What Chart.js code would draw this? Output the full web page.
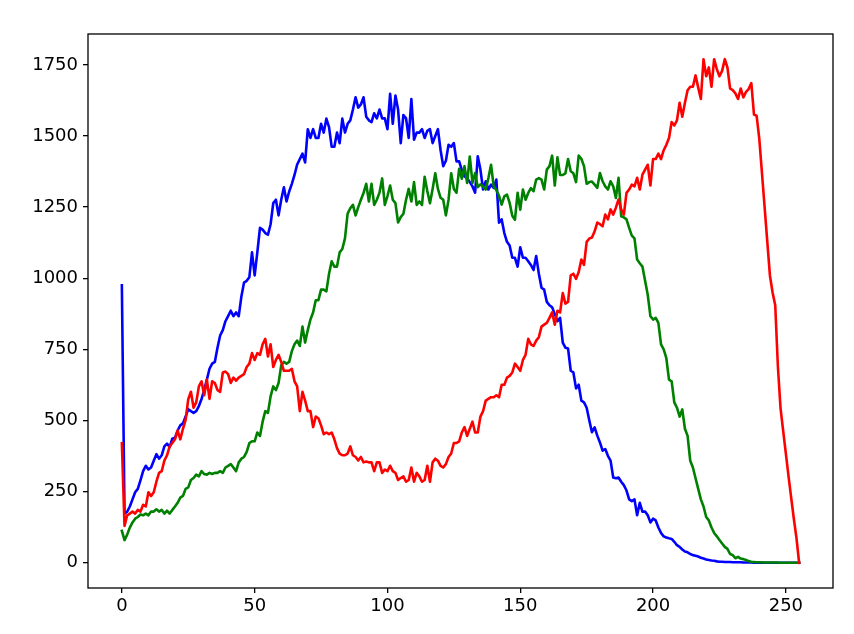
<!DOCTYPE html>
<html lang="en">
<head>
<meta charset="UTF-8">
<title>Colour histogram</title>
<script src="https://cdn.jsdelivr.net/npm/chart.js"></script>
<style>
  html, body { margin: 0; padding: 0; background: #ffffff; }
  #histChart { display: block; }
</style>
</head>
<body>
<canvas id="histChart" width="854" height="634"></canvas>
<script>
// pixel counts per intensity bin
const blueCounts = [
  975, 173, 180, 198, 223, 248, 260, 290, 322, 341, 328, 335, 359, 382, 366, 378,
  409, 419, 407, 436, 440, 465, 483, 490, 514, 540, 533, 527, 533, 551, 576, 607,
  644, 682, 700, 706, 756, 799, 818, 849, 867, 886, 867, 880, 867, 936, 985, 991,
  1004, 1091, 1010, 1091, 1177, 1171, 1159, 1153, 1190, 1264, 1276, 1221, 1276, 1320, 1270, 1305,
  1332, 1363, 1400, 1419, 1438, 1407, 1524, 1493, 1524, 1493, 1493, 1543, 1512, 1561, 1531, 1462,
  1462, 1512, 1475, 1561, 1512, 1543, 1555, 1593, 1636, 1600, 1611, 1636, 1568, 1555, 1549, 1580,
  1562, 1593, 1562, 1562, 1524, 1648, 1543, 1642, 1593, 1475, 1574, 1562, 1493, 1630, 1487, 1512,
  1512, 1524, 1493, 1518, 1524, 1475, 1500, 1524, 1450, 1394, 1413, 1469, 1462, 1475, 1411, 1411,
  1380, 1358, 1352, 1338, 1323, 1301, 1429, 1382, 1312, 1341, 1312, 1329, 1318, 1347, 1195, 1207,
  1159, 1128, 1115, 1072, 1072, 1041, 1109, 1072, 1072, 1060, 1047, 1029, 1078, 1016, 967, 960,
  917, 905, 898, 874, 849, 861, 774, 756, 753, 675, 669, 613, 626, 570, 564, 545,
  500, 459, 476, 447, 423, 394, 400, 376, 359, 300, 297, 300, 285, 273, 254, 223,
  217, 223, 167, 211, 180, 180, 167, 142, 155, 149, 124, 105, 93, 89, 86, 84,
  74, 62, 56, 47, 40, 37, 31, 27, 25, 22, 18, 15, 12, 10, 8, 7,
  5, 4, 4, 3, 3, 3, 2, 2, 2, 2, 1, 1, 1, 1, 0, 0,
  0, 0, 0, 0, 0, 0, 0, 0, 0, 0, 0, 0, 0, 0, 0, 0
];
const greenCounts = [
  112, 80, 99, 124, 142, 155, 161, 170, 167, 173, 167, 180, 180, 188, 180, 186,
  173, 183, 173, 186, 198, 211, 229, 235, 260, 265, 291, 298, 310, 304, 322, 312,
  310, 316, 312, 316, 316, 322, 316, 335, 341, 347, 335, 322, 353, 366, 372, 390,
  421, 427, 427, 458, 446, 496, 533, 527, 585, 620, 607, 632, 694, 706, 700, 706,
  744, 768, 781, 762, 830, 774, 818, 855, 880, 923, 923, 960, 960, 954, 1016, 1060,
  1041, 1041, 1091, 1103, 1140, 1227, 1246, 1258, 1221, 1250, 1276, 1300, 1332, 1270, 1332, 1258,
  1276, 1301, 1351, 1258, 1289, 1326, 1276, 1264, 1196, 1215, 1227, 1276, 1314, 1270, 1338, 1258,
  1270, 1258, 1357, 1307, 1264, 1314, 1369, 1314, 1283, 1276, 1221, 1276, 1369, 1314, 1301, 1385,
  1350, 1394, 1335, 1428, 1335, 1370, 1320, 1330, 1323, 1312, 1352, 1399, 1323, 1310, 1290, 1259,
  1288, 1294, 1265, 1220, 1206, 1300, 1241, 1312, 1276, 1300, 1317, 1306, 1347, 1352, 1347, 1312,
  1382, 1394, 1431, 1326, 1425, 1363, 1363, 1369, 1419, 1376, 1369, 1338, 1431, 1420, 1394, 1332,
  1338, 1340, 1329, 1318, 1370, 1341, 1323, 1312, 1341, 1323, 1282, 1353, 1218, 1214, 1207, 1177,
  1150, 1140, 1066, 1053, 1041, 991, 942, 867, 855, 861, 843, 768, 750, 719, 644, 638,
  564, 545, 514, 539, 471, 446, 359, 335, 297, 260, 223, 198, 161, 149, 124, 105,
  93, 80, 68, 56, 49, 31, 27, 16, 21, 15, 13, 10, 6, 4, 3, 2,
  2, 2, 1, 1, 1, 1, 1, 1, 0, 0, 0, 0, 0, 0, 0, 0
];
const redCounts = [
  420, 130, 167, 173, 180, 173, 186, 180, 204, 198, 248, 235, 248, 285, 316, 322,
  359, 378, 409, 421, 434, 465, 434, 471, 502, 575, 601, 545, 564, 620, 638, 589,
  644, 576, 638, 632, 607, 601, 669, 672, 663, 632, 651, 640, 651, 657, 663, 688,
  700, 737, 713, 737, 731, 768, 787, 725, 768, 688, 713, 731, 706, 675, 675, 675,
  682, 638, 620, 533, 601, 570, 533, 533, 477, 514, 508, 483, 452, 458, 452, 458,
  434, 403, 384, 378, 378, 384, 409, 378, 372, 360, 372, 353, 356, 353, 353, 322,
  353, 353, 316, 328, 322, 341, 322, 316, 291, 298, 304, 285, 291, 335, 285, 316,
  304, 285, 291, 341, 285, 353, 366, 359, 341, 335, 347, 372, 384, 421, 421, 427,
  458, 477, 446, 471, 496, 458, 458, 514, 533, 570, 576, 582, 582, 589, 582, 626,
  626, 651, 657, 669, 700, 688, 675, 713, 731, 787, 768, 762, 781, 793, 830, 837,
  843, 861, 880, 837, 886, 880, 948, 911, 917, 1010, 1016, 998, 1022, 1066, 1047, 1128,
  1140, 1143, 1165, 1196, 1190, 1183, 1224, 1207, 1242, 1224, 1248, 1277, 1242, 1224, 1300, 1312,
  1329, 1323, 1353, 1312, 1364, 1382, 1399, 1326, 1419, 1419, 1438, 1419, 1450, 1469, 1493, 1549,
  1537, 1555, 1617, 1568, 1617, 1661, 1673, 1673, 1713, 1670, 1630, 1770, 1710, 1741, 1673, 1770,
  1735, 1710, 1729, 1770, 1741, 1667, 1661, 1650, 1630, 1667, 1636, 1655, 1665, 1686, 1575, 1571,
  1490, 1370, 1250, 1130, 1010, 950, 905, 690, 543, 463, 384, 305, 229, 155, 87, 0
];
const xTicks = [0, 50, 100, 150, 200, 250];
const yTicks = [0, 250, 500, 750, 1000, 1250, 1500, 1750];

function toPoints(counts) {
    return counts.map((v, bin) => ({ x: bin, y: v }));
}

// matplotlib style frame round the axes
const framePlugin = {
    id: 'frame',
    afterDraw(chart) {
        const a = chart.chartArea;
        const ctx = chart.ctx;
        ctx.save();
        ctx.strokeStyle = '#000000';
        ctx.lineWidth = 1.3;
        ctx.strokeRect(a.left, a.top, a.right - a.left, a.bottom - a.top);
        ctx.restore();
    }
};

const tickFont = { family: 'DejaVu Sans', size: 18 };

const ctx = document.getElementById('histChart').getContext('2d');
new Chart(ctx, {
    type: 'line',
    data: {
        datasets: [
            { label: 'b', data: toPoints(blueCounts), borderColor: '#0000ff', order: 2 },
            { label: 'g', data: toPoints(greenCounts), borderColor: '#008000', order: 1 },
            { label: 'r', data: toPoints(redCounts), borderColor: '#ff0000', order: 0 }
        ]
    },
    options: {
        responsive: false,
        animation: false,
        events: [],
        layout: { padding: { top: 34, right: 21, left: 0, bottom: 0 } },
        elements: {
            line: { borderWidth: 2.6, tension: 0, fill: false, borderCapStyle: 'square', borderJoinStyle: 'round' },
            point: { radius: 0 }
        },
        plugins: {
            legend: { display: false },
            tooltip: { enabled: false }
        },
        scales: {
            x: {
                type: 'linear',
                min: -12.75,
                max: 267.75,
                afterBuildTicks: s => { s.ticks = xTicks.map(v => ({ value: v })); },
                afterFit: s => { s.height = 46; },
                border: { display: false },
                grid: { drawOnChartArea: false, drawTicks: true, tickLength: 5, color: '#000000', lineWidth: 1.3 },
                ticks: { color: '#000000', font: tickFont, padding: 3, maxRotation: 0, callback: v => String(v) }
            },
            y: {
                type: 'linear',
                min: -88.5,
                max: 1858.5,
                afterBuildTicks: s => { s.ticks = yTicks.map(v => ({ value: v })); },
                afterFit: s => { s.width = 88; },
                border: { display: false },
                grid: { drawOnChartArea: false, drawTicks: true, tickLength: 5, color: '#000000', lineWidth: 1.3 },
                ticks: { color: '#000000', font: tickFont, padding: 5, callback: v => String(v) }
            }
        }
    },
    plugins: [framePlugin]
});
</script>
</body>
</html>
